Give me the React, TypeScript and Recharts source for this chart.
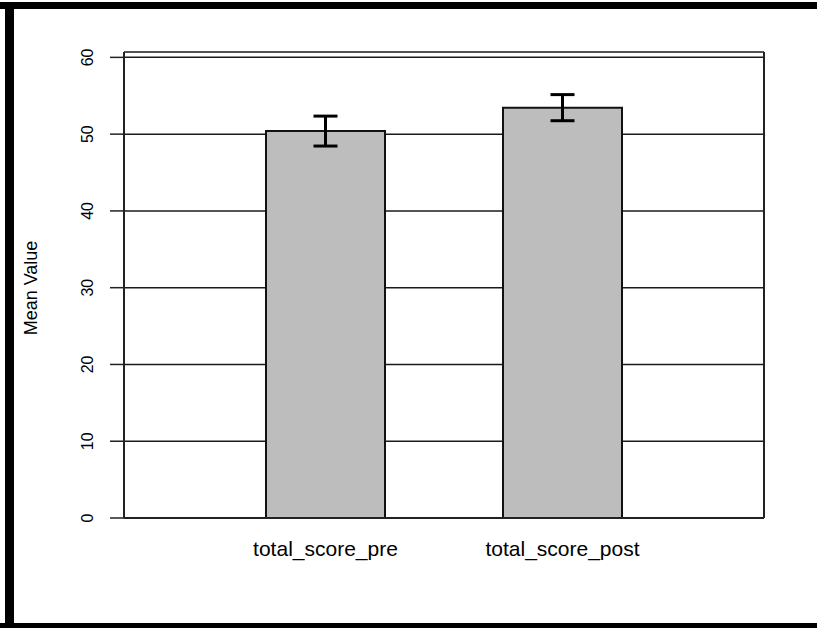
import React from 'react';
import { Bar, BarChart, XAxis, YAxis, CartesianGrid, ErrorBar } from 'recharts';

const categories = ['total_score_pre', 'total_score_post'];
const meanValues = [50.4, 53.45];
const errorValues = [1.95, 1.7];
const yTicks = [0, 10, 20, 30, 40, 50, 60];

const data = categories.map((name, i) => ({ name, mean: meanValues[i], err: errorValues[i] }));

const FONT = '"Liberation Sans", Arial, sans-serif';

function YTick(props: any) {
  const { x, y, payload } = props;
  const tx = x - 15;
  return (
    <text x={tx} y={y} transform={`rotate(-90, ${tx}, ${y})`} textAnchor="middle" fontSize={16} fontFamily={FONT} fill="#000">
      {payload.value}
    </text>
  );
}

function XTick(props: any) {
  const { x, y, payload } = props;
  return (
    <text x={x} y={y + 30} textAnchor="middle" fontSize={21} fontFamily={FONT} fill="#000">
      {payload.value}
    </text>
  );
}

function YLabel(props: any) {
  const vb = props.viewBox || { x: 0, y: 52, width: 124, height: 466 };
  const x = vb.x + 37;
  const y = vb.y + vb.height / 2 + 3;
  return (
    <text x={x} y={y} transform={`rotate(-90, ${x}, ${y})`} textAnchor="middle" fontSize={18} fontFamily={FONT} fill="#000">
      Mean Value
    </text>
  );
}

export default function App() {
  return (
    <div style={{ position: 'absolute', left: 0, top: 0, width: 817, height: 628, background: '#fff', overflow: 'hidden' }}>
      <div style={{ position: 'absolute', left: 0, top: 2, width: 817, height: 7, background: '#000' }} />
      <div style={{ position: 'absolute', left: 5, top: 2, width: 9, height: 626, background: '#000' }} />
      <div style={{ position: 'absolute', left: 0, top: 623, width: 817, height: 5, background: '#000' }} />
      <div style={{ position: 'absolute', left: 0, top: 0 }}>
        <BarChart width={817} height={628} data={data} margin={{ top: 52, right: 52, left: 0, bottom: 50 }}>
          <CartesianGrid vertical={false} stroke="#1a1a1a" strokeWidth={1.5} />
          <XAxis
            dataKey="name"
            height={60}
            padding={{ left: 83, right: 83 }}
            tickLine={false}
            axisLine={{ stroke: '#222', strokeWidth: 2 }}
            tick={<XTick />}
            interval={0}
          />
          <XAxis xAxisId="top" orientation="top" dataKey="name" height={0} tick={false} tickLine={false} axisLine={{ stroke: '#222', strokeWidth: 2 }} />
          <YAxis
            width={124}
            domain={[0, 60.7]}
            ticks={yTicks}
            tickSize={14}
            tickLine={{ stroke: '#222', strokeWidth: 1.5 }}
            axisLine={{ stroke: '#222', strokeWidth: 2 }}
            tick={<YTick />}
            label={{ content: <YLabel /> }}
          />
          <YAxis yAxisId="right" orientation="right" width={1} domain={[0, 60.7]} tick={false} tickLine={false} axisLine={{ stroke: '#222', strokeWidth: 2 }} />
          <Bar dataKey="mean" fill="#bdbdbd" stroke="#111" strokeWidth={2} barSize={119} isAnimationActive={false}>
            <ErrorBar dataKey="err" width={12} stroke="#000" strokeWidth={3} isAnimationActive={false} />
          </Bar>
        </BarChart>
      </div>
    </div>
  );
}
